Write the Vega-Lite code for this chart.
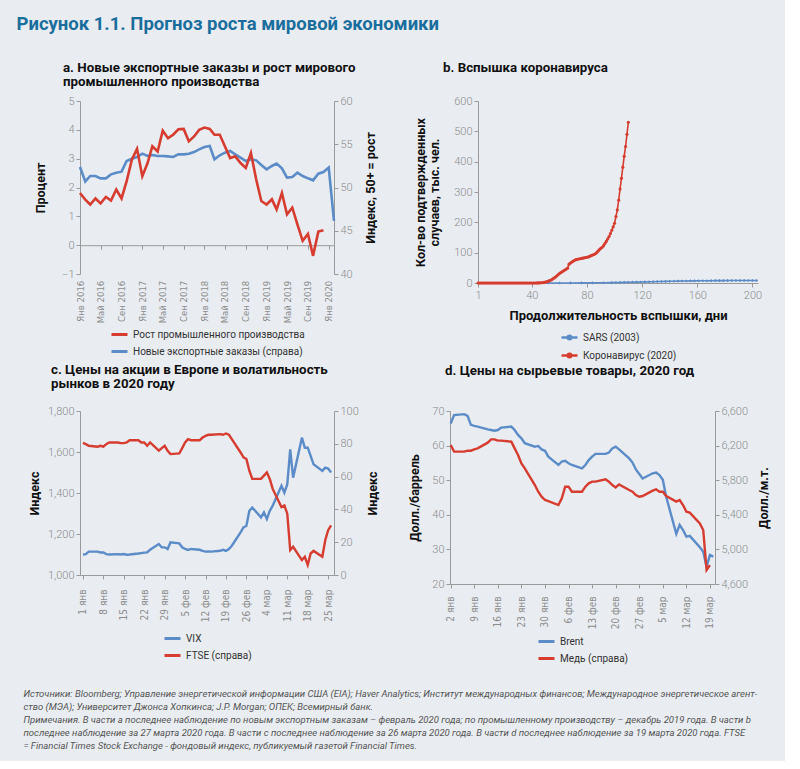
{
  "$schema": "https://vega.github.io/schema/vega-lite/v6.json",
  "background": "#e9ecf1",
  "padding": {"left": 16, "top": 15, "right": 14, "bottom": 10},
  "title": {
    "text": "Рисунок 1.1. Прогноз роста мировой экономики",
    "anchor": "start", "frame": "bounds", "dx": -7,
    "font": "Roboto", "fontSize": 18.5, "fontWeight": "bold", "color": "#1a6e9e", "offset": 27
  },
  "config": {
    "font": "Roboto",
    "view": {"stroke": null},
    "axis": {
      "grid": false, "domainColor": "#9a9a9a", "tickColor": "#9a9a9a", "tickSize": 4,
      "labelColor": "#8c8c8c", "labelFontSize": 11, "labelFont": "Roboto", "labelFontWeight": 300,
      "titleFont": "Roboto", "titleFontSize": 12.5, "titleFontWeight": "bold", "titleColor": "#111111"
    },
    "legend": {
      "orient": "bottom", "direction": "vertical", "labelFont": "Roboto", "labelFontSize": 10,
      "labelColor": "#333333", "labelLimit": 320, "symbolStrokeWidth": 3, "symbolSize": 256, "rowPadding": 1, "padding": 0,
      "layout": {"bottom": {"anchor": "middle"}}
    },
    "title": {"font": "Roboto", "fontSize": 13.3, "fontWeight": "bold", "color": "#111111", "anchor": "start", "lineHeight": 13.5}
  },
  "resolve": {"scale": {"color": "independent"}, "legend": {"color": "independent"}},
  "columns": 1,
  "spacing": 0,
  "datasets": {
    "a": [
      {"date": "2016-01-01", "ip": 1.81, "eo": 52.37},
      {"date": "2016-02-01", "ip": 1.58, "eo": 50.7},
      {"date": "2016-03-01", "ip": 1.41, "eo": 51.33},
      {"date": "2016-04-01", "ip": 1.62, "eo": 51.33},
      {"date": "2016-05-01", "ip": 1.45, "eo": 51.06},
      {"date": "2016-06-01", "ip": 1.67, "eo": 51.06},
      {"date": "2016-07-01", "ip": 1.55, "eo": 51.52},
      {"date": "2016-08-01", "ip": 1.93, "eo": 51.71},
      {"date": "2016-09-01", "ip": 1.62, "eo": 51.83},
      {"date": "2016-10-01", "ip": 2.22, "eo": 53.06},
      {"date": "2016-11-01", "ip": 2.97, "eo": 53.33},
      {"date": "2016-12-01", "ip": 3.34, "eo": 53.53},
      {"date": "2017-01-01", "ip": 2.39, "eo": 53.91},
      {"date": "2017-02-01", "ip": 2.85, "eo": 53.64},
      {"date": "2017-03-01", "ip": 3.43, "eo": 53.76},
      {"date": "2017-04-01", "ip": 3.25, "eo": 53.64},
      {"date": "2017-05-01", "ip": 3.97, "eo": 53.64},
      {"date": "2017-06-01", "ip": 3.71, "eo": 53.6},
      {"date": "2017-07-01", "ip": 3.83, "eo": 53.53},
      {"date": "2017-08-01", "ip": 4.02, "eo": 53.83},
      {"date": "2017-09-01", "ip": 4.03, "eo": 53.83},
      {"date": "2017-10-01", "ip": 3.6, "eo": 53.91},
      {"date": "2017-11-01", "ip": 3.77, "eo": 54.1},
      {"date": "2017-12-01", "ip": 4.0, "eo": 54.41},
      {"date": "2018-01-01", "ip": 4.08, "eo": 54.68},
      {"date": "2018-02-01", "ip": 4.03, "eo": 54.8},
      {"date": "2018-03-01", "ip": 3.83, "eo": 53.26},
      {"date": "2018-04-01", "ip": 3.83, "eo": 53.72},
      {"date": "2018-05-01", "ip": 3.43, "eo": 54.03},
      {"date": "2018-06-01", "ip": 3.02, "eo": 54.22},
      {"date": "2018-07-01", "ip": 3.08, "eo": 53.83},
      {"date": "2018-08-01", "ip": 2.85, "eo": 53.45},
      {"date": "2018-09-01", "ip": 2.68, "eo": 53.06},
      {"date": "2018-10-01", "ip": 3.2, "eo": 53.26},
      {"date": "2018-11-01", "ip": 2.28, "eo": 53.14},
      {"date": "2018-12-01", "ip": 1.53, "eo": 52.6},
      {"date": "2019-01-01", "ip": 1.41, "eo": 52.1},
      {"date": "2019-02-01", "ip": 1.59, "eo": 52.49},
      {"date": "2019-03-01", "ip": 1.24, "eo": 52.76},
      {"date": "2019-04-01", "ip": 1.81, "eo": 52.22},
      {"date": "2019-05-01", "ip": 1.07, "eo": 51.14},
      {"date": "2019-06-01", "ip": 1.3, "eo": 51.21},
      {"date": "2019-07-01", "ip": 0.72, "eo": 51.71},
      {"date": "2019-08-01", "ip": 0.15, "eo": 51.33},
      {"date": "2019-09-01", "ip": 0.39, "eo": 51.06},
      {"date": "2019-10-01", "ip": -0.37, "eo": 50.83},
      {"date": "2019-11-01", "ip": 0.47, "eo": 51.6},
      {"date": "2019-12-01", "ip": 0.52, "eo": 51.79},
      {"date": "2020-01-01", "ip": null, "eo": 52.3},
      {"date": "2020-02-01", "ip": null, "eo": 46.13}
    ],
    "b": [
      {"day": 52, "cases": 0, "series": "SARS (2003)"},
      {"day": 60, "cases": 0.1, "series": "SARS (2003)"},
      {"day": 68, "cases": 0.2, "series": "SARS (2003)"},
      {"day": 76, "cases": 0.3, "series": "SARS (2003)"},
      {"day": 84, "cases": 0.4, "series": "SARS (2003)"},
      {"day": 92, "cases": 0.8, "series": "SARS (2003)"},
      {"day": 98, "cases": 1.2, "series": "SARS (2003)"},
      {"day": 101, "cases": 1.5, "series": "SARS (2003)"},
      {"day": 104, "cases": 1.8, "series": "SARS (2003)"},
      {"day": 107, "cases": 2.1, "series": "SARS (2003)"},
      {"day": 110, "cases": 2.4, "series": "SARS (2003)"},
      {"day": 113, "cases": 2.7, "series": "SARS (2003)"},
      {"day": 116, "cases": 3.0, "series": "SARS (2003)"},
      {"day": 119, "cases": 3.3, "series": "SARS (2003)"},
      {"day": 122, "cases": 3.6, "series": "SARS (2003)"},
      {"day": 125, "cases": 4.0, "series": "SARS (2003)"},
      {"day": 128, "cases": 4.3, "series": "SARS (2003)"},
      {"day": 131, "cases": 4.7, "series": "SARS (2003)"},
      {"day": 134, "cases": 5.0, "series": "SARS (2003)"},
      {"day": 137, "cases": 5.3, "series": "SARS (2003)"},
      {"day": 140, "cases": 5.6, "series": "SARS (2003)"},
      {"day": 143, "cases": 5.9, "series": "SARS (2003)"},
      {"day": 146, "cases": 6.2, "series": "SARS (2003)"},
      {"day": 149, "cases": 6.5, "series": "SARS (2003)"},
      {"day": 152, "cases": 6.7, "series": "SARS (2003)"},
      {"day": 155, "cases": 6.9, "series": "SARS (2003)"},
      {"day": 158, "cases": 7.1, "series": "SARS (2003)"},
      {"day": 161, "cases": 7.3, "series": "SARS (2003)"},
      {"day": 164, "cases": 7.4, "series": "SARS (2003)"},
      {"day": 167, "cases": 7.5, "series": "SARS (2003)"},
      {"day": 170, "cases": 7.6, "series": "SARS (2003)"},
      {"day": 173, "cases": 7.7, "series": "SARS (2003)"},
      {"day": 176, "cases": 7.8, "series": "SARS (2003)"},
      {"day": 179, "cases": 7.9, "series": "SARS (2003)"},
      {"day": 182, "cases": 8.0, "series": "SARS (2003)"},
      {"day": 185, "cases": 8.0, "series": "SARS (2003)"},
      {"day": 188, "cases": 8.1, "series": "SARS (2003)"},
      {"day": 191, "cases": 8.1, "series": "SARS (2003)"},
      {"day": 194, "cases": 8.1, "series": "SARS (2003)"},
      {"day": 197, "cases": 8.1, "series": "SARS (2003)"},
      {"day": 200, "cases": 8.1, "series": "SARS (2003)"},
      {"day": 203, "cases": 8.1, "series": "SARS (2003)"},
      {"day": 1, "cases": 0, "series": "Коронавирус (2020)"},
      {"day": 2, "cases": 0, "series": "Коронавирус (2020)"},
      {"day": 3, "cases": 0, "series": "Коронавирус (2020)"},
      {"day": 4, "cases": 0, "series": "Коронавирус (2020)"},
      {"day": 5, "cases": 0, "series": "Коронавирус (2020)"},
      {"day": 6, "cases": 0, "series": "Коронавирус (2020)"},
      {"day": 7, "cases": 0, "series": "Коронавирус (2020)"},
      {"day": 8, "cases": 0, "series": "Коронавирус (2020)"},
      {"day": 9, "cases": 0, "series": "Коронавирус (2020)"},
      {"day": 10, "cases": 0, "series": "Коронавирус (2020)"},
      {"day": 11, "cases": 0, "series": "Коронавирус (2020)"},
      {"day": 12, "cases": 0, "series": "Коронавирус (2020)"},
      {"day": 13, "cases": 0, "series": "Коронавирус (2020)"},
      {"day": 14, "cases": 0, "series": "Коронавирус (2020)"},
      {"day": 15, "cases": 0, "series": "Коронавирус (2020)"},
      {"day": 16, "cases": 0, "series": "Коронавирус (2020)"},
      {"day": 17, "cases": 0, "series": "Коронавирус (2020)"},
      {"day": 18, "cases": 0, "series": "Коронавирус (2020)"},
      {"day": 19, "cases": 0, "series": "Коронавирус (2020)"},
      {"day": 20, "cases": 0, "series": "Коронавирус (2020)"},
      {"day": 21, "cases": 0, "series": "Коронавирус (2020)"},
      {"day": 22, "cases": 0, "series": "Коронавирус (2020)"},
      {"day": 23, "cases": 0, "series": "Коронавирус (2020)"},
      {"day": 24, "cases": 0, "series": "Коронавирус (2020)"},
      {"day": 25, "cases": 0, "series": "Коронавирус (2020)"},
      {"day": 26, "cases": 0, "series": "Коронавирус (2020)"},
      {"day": 27, "cases": 0, "series": "Коронавирус (2020)"},
      {"day": 28, "cases": 0, "series": "Коронавирус (2020)"},
      {"day": 29, "cases": 0, "series": "Коронавирус (2020)"},
      {"day": 30, "cases": 0, "series": "Коронавирус (2020)"},
      {"day": 31, "cases": 0, "series": "Коронавирус (2020)"},
      {"day": 32, "cases": 0, "series": "Коронавирус (2020)"},
      {"day": 33, "cases": 0, "series": "Коронавирус (2020)"},
      {"day": 34, "cases": 0, "series": "Коронавирус (2020)"},
      {"day": 35, "cases": 0, "series": "Коронавирус (2020)"},
      {"day": 36, "cases": 0, "series": "Коронавирус (2020)"},
      {"day": 37, "cases": 0, "series": "Коронавирус (2020)"},
      {"day": 38, "cases": 0, "series": "Коронавирус (2020)"},
      {"day": 39, "cases": 0, "series": "Коронавирус (2020)"},
      {"day": 40, "cases": 0, "series": "Коронавирус (2020)"},
      {"day": 41, "cases": 0, "series": "Коронавирус (2020)"},
      {"day": 42, "cases": 0, "series": "Коронавирус (2020)"},
      {"day": 43, "cases": 0.1, "series": "Коронавирус (2020)"},
      {"day": 44, "cases": 0.2, "series": "Коронавирус (2020)"},
      {"day": 45, "cases": 0.3, "series": "Коронавирус (2020)"},
      {"day": 46, "cases": 0.5, "series": "Коронавирус (2020)"},
      {"day": 47, "cases": 0.8, "series": "Коронавирус (2020)"},
      {"day": 48, "cases": 1.3, "series": "Коронавирус (2020)"},
      {"day": 49, "cases": 2, "series": "Коронавирус (2020)"},
      {"day": 50, "cases": 3, "series": "Коронавирус (2020)"},
      {"day": 51, "cases": 4.5, "series": "Коронавирус (2020)"},
      {"day": 52, "cases": 6, "series": "Коронавирус (2020)"},
      {"day": 53, "cases": 8, "series": "Коронавирус (2020)"},
      {"day": 54, "cases": 10, "series": "Коронавирус (2020)"},
      {"day": 55, "cases": 13, "series": "Коронавирус (2020)"},
      {"day": 56, "cases": 16, "series": "Коронавирус (2020)"},
      {"day": 57, "cases": 19, "series": "Коронавирус (2020)"},
      {"day": 58, "cases": 23, "series": "Коронавирус (2020)"},
      {"day": 59, "cases": 27, "series": "Коронавирус (2020)"},
      {"day": 60, "cases": 31, "series": "Коронавирус (2020)"},
      {"day": 61, "cases": 34, "series": "Коронавирус (2020)"},
      {"day": 62, "cases": 37, "series": "Коронавирус (2020)"},
      {"day": 63, "cases": 40, "series": "Коронавирус (2020)"},
      {"day": 64, "cases": 43, "series": "Коронавирус (2020)"},
      {"day": 65, "cases": 46, "series": "Коронавирус (2020)"},
      {"day": 66, "cases": 49, "series": "Коронавирус (2020)"},
      {"day": 67, "cases": 62, "series": "Коронавирус (2020)"},
      {"day": 68, "cases": 66, "series": "Коронавирус (2020)"},
      {"day": 69, "cases": 69, "series": "Коронавирус (2020)"},
      {"day": 70, "cases": 72, "series": "Коронавирус (2020)"},
      {"day": 71, "cases": 75, "series": "Коронавирус (2020)"},
      {"day": 72, "cases": 77, "series": "Коронавирус (2020)"},
      {"day": 73, "cases": 78, "series": "Коронавирус (2020)"},
      {"day": 74, "cases": 79, "series": "Коронавирус (2020)"},
      {"day": 75, "cases": 80, "series": "Коронавирус (2020)"},
      {"day": 76, "cases": 81, "series": "Коронавирус (2020)"},
      {"day": 77, "cases": 82, "series": "Коронавирус (2020)"},
      {"day": 78, "cases": 83, "series": "Коронавирус (2020)"},
      {"day": 79, "cases": 84, "series": "Коронавирус (2020)"},
      {"day": 80, "cases": 85, "series": "Коронавирус (2020)"},
      {"day": 81, "cases": 86, "series": "Коронавирус (2020)"},
      {"day": 82, "cases": 88, "series": "Коронавирус (2020)"},
      {"day": 83, "cases": 90, "series": "Коронавирус (2020)"},
      {"day": 84, "cases": 92, "series": "Коронавирус (2020)"},
      {"day": 85, "cases": 94, "series": "Коронавирус (2020)"},
      {"day": 86, "cases": 96, "series": "Коронавирус (2020)"},
      {"day": 87, "cases": 100, "series": "Коронавирус (2020)"},
      {"day": 88, "cases": 105, "series": "Коронавирус (2020)"},
      {"day": 89, "cases": 110, "series": "Коронавирус (2020)"},
      {"day": 90, "cases": 114, "series": "Коронавирус (2020)"},
      {"day": 91, "cases": 118, "series": "Коронавирус (2020)"},
      {"day": 92, "cases": 123, "series": "Коронавирус (2020)"},
      {"day": 93, "cases": 130, "series": "Коронавирус (2020)"},
      {"day": 94, "cases": 137, "series": "Коронавирус (2020)"},
      {"day": 95, "cases": 145, "series": "Коронавирус (2020)"},
      {"day": 96, "cases": 153, "series": "Коронавирус (2020)"},
      {"day": 97, "cases": 163, "series": "Коронавирус (2020)"},
      {"day": 98, "cases": 174, "series": "Коронавирус (2020)"},
      {"day": 99, "cases": 185, "series": "Коронавирус (2020)"},
      {"day": 100, "cases": 197, "series": "Коронавирус (2020)"},
      {"day": 101, "cases": 219, "series": "Коронавирус (2020)"},
      {"day": 102, "cases": 241, "series": "Коронавирус (2020)"},
      {"day": 103, "cases": 273, "series": "Коронавирус (2020)"},
      {"day": 104, "cases": 310, "series": "Коронавирус (2020)"},
      {"day": 105, "cases": 345, "series": "Коронавирус (2020)"},
      {"day": 106, "cases": 382, "series": "Коронавирус (2020)"},
      {"day": 107, "cases": 418, "series": "Коронавирус (2020)"},
      {"day": 108, "cases": 450, "series": "Коронавирус (2020)"},
      {"day": 109, "cases": 490, "series": "Коронавирус (2020)"},
      {"day": 110, "cases": 530, "series": "Коронавирус (2020)"}
    ],
    "c": [
      {"date": "2020-01-01", "vix": 1100, "ftse": 80.5},
      {"date": "2020-01-02", "vix": 1102, "ftse": 79.8},
      {"date": "2020-01-03", "vix": 1114, "ftse": 78.8},
      {"date": "2020-01-06", "vix": 1114, "ftse": 78.2},
      {"date": "2020-01-07", "vix": 1110, "ftse": 78.8},
      {"date": "2020-01-08", "vix": 1110, "ftse": 78.2},
      {"date": "2020-01-09", "vix": 1102, "ftse": 79.8},
      {"date": "2020-01-10", "vix": 1100, "ftse": 80.8},
      {"date": "2020-01-13", "vix": 1102, "ftse": 80.8},
      {"date": "2020-01-14", "vix": 1100, "ftse": 80.4},
      {"date": "2020-01-15", "vix": 1102, "ftse": 80.4},
      {"date": "2020-01-16", "vix": 1099, "ftse": 80.8},
      {"date": "2020-01-17", "vix": 1100, "ftse": 82.2},
      {"date": "2020-01-20", "vix": 1105, "ftse": 82.2},
      {"date": "2020-01-21", "vix": 1107, "ftse": 80.8},
      {"date": "2020-01-22", "vix": 1109, "ftse": 80.8},
      {"date": "2020-01-23", "vix": 1110, "ftse": 78.8},
      {"date": "2020-01-24", "vix": 1123, "ftse": 80.8},
      {"date": "2020-01-27", "vix": 1151, "ftse": 75.8},
      {"date": "2020-01-28", "vix": 1135, "ftse": 77.4},
      {"date": "2020-01-29", "vix": 1135, "ftse": 78.8},
      {"date": "2020-01-30", "vix": 1127, "ftse": 75.8},
      {"date": "2020-01-31", "vix": 1159, "ftse": 73.7},
      {"date": "2020-02-03", "vix": 1154, "ftse": 74.1},
      {"date": "2020-02-04", "vix": 1135, "ftse": 77.4},
      {"date": "2020-02-05", "vix": 1127, "ftse": 80.8},
      {"date": "2020-02-06", "vix": 1122, "ftse": 82.8},
      {"date": "2020-02-07", "vix": 1127, "ftse": 82.2},
      {"date": "2020-02-10", "vix": 1123, "ftse": 82.2},
      {"date": "2020-02-11", "vix": 1118, "ftse": 83.8},
      {"date": "2020-02-12", "vix": 1114, "ftse": 84.8},
      {"date": "2020-02-13", "vix": 1115, "ftse": 85.5},
      {"date": "2020-02-14", "vix": 1114, "ftse": 85.5},
      {"date": "2020-02-17", "vix": 1118, "ftse": 85.9},
      {"date": "2020-02-18", "vix": 1123, "ftse": 85.5},
      {"date": "2020-02-19", "vix": 1118, "ftse": 86.3},
      {"date": "2020-02-20", "vix": 1127, "ftse": 85.5},
      {"date": "2020-02-21", "vix": 1143, "ftse": 82.8},
      {"date": "2020-02-24", "vix": 1208, "ftse": 74.7},
      {"date": "2020-02-25", "vix": 1232, "ftse": 71.7},
      {"date": "2020-02-26", "vix": 1240, "ftse": 70.7},
      {"date": "2020-02-27", "vix": 1313, "ftse": 63.6},
      {"date": "2020-02-28", "vix": 1329, "ftse": 58.6},
      {"date": "2020-03-02", "vix": 1281, "ftse": 58.6},
      {"date": "2020-03-03", "vix": 1305, "ftse": 60.6},
      {"date": "2020-03-04", "vix": 1273, "ftse": 62.6},
      {"date": "2020-03-05", "vix": 1313, "ftse": 58.6},
      {"date": "2020-03-06", "vix": 1338, "ftse": 52.5},
      {"date": "2020-03-09", "vix": 1435, "ftse": 41.4},
      {"date": "2020-03-10", "vix": 1402, "ftse": 42.4},
      {"date": "2020-03-11", "vix": 1443, "ftse": 37.4},
      {"date": "2020-03-12", "vix": 1613, "ftse": 15.2},
      {"date": "2020-03-13", "vix": 1475, "ftse": 17.2},
      {"date": "2020-03-16", "vix": 1670, "ftse": 9.1},
      {"date": "2020-03-17", "vix": 1621, "ftse": 11.1},
      {"date": "2020-03-18", "vix": 1621, "ftse": 6.1},
      {"date": "2020-03-19", "vix": 1581, "ftse": 13.1},
      {"date": "2020-03-20", "vix": 1540, "ftse": 14.7},
      {"date": "2020-03-23", "vix": 1508, "ftse": 11.1},
      {"date": "2020-03-24", "vix": 1524, "ftse": 21.2},
      {"date": "2020-03-25", "vix": 1519, "ftse": 27.3},
      {"date": "2020-03-26", "vix": 1500, "ftse": 30.3}
    ],
    "d": [
      {"date": "2020-01-02", "brent": 66.4, "copper": 6207},
      {"date": "2020-01-03", "brent": 68.8, "copper": 6130},
      {"date": "2020-01-06", "brent": 69.1, "copper": 6130},
      {"date": "2020-01-07", "brent": 68.6, "copper": 6141},
      {"date": "2020-01-08", "brent": 66.0, "copper": 6141},
      {"date": "2020-01-09", "brent": 65.7, "copper": 6157},
      {"date": "2020-01-10", "brent": 65.5, "copper": 6168},
      {"date": "2020-01-13", "brent": 64.7, "copper": 6234},
      {"date": "2020-01-14", "brent": 64.5, "copper": 6272},
      {"date": "2020-01-15", "brent": 64.3, "copper": 6272},
      {"date": "2020-01-16", "brent": 64.5, "copper": 6257},
      {"date": "2020-01-17", "brent": 65.2, "copper": 6257},
      {"date": "2020-01-20", "brent": 65.5, "copper": 6245},
      {"date": "2020-01-21", "brent": 64.5, "copper": 6168},
      {"date": "2020-01-22", "brent": 63.1, "copper": 6091},
      {"date": "2020-01-23", "brent": 62.1, "copper": 5995},
      {"date": "2020-01-24", "brent": 60.7, "copper": 5937},
      {"date": "2020-01-27", "brent": 59.7, "copper": 5744},
      {"date": "2020-01-28", "brent": 59.9, "copper": 5667},
      {"date": "2020-01-29", "brent": 58.9, "copper": 5609},
      {"date": "2020-01-30", "brent": 58.5, "copper": 5571},
      {"date": "2020-01-31", "brent": 56.8, "copper": 5559},
      {"date": "2020-02-03", "brent": 54.4, "copper": 5513},
      {"date": "2020-02-04", "brent": 55.4, "copper": 5590},
      {"date": "2020-02-05", "brent": 55.6, "copper": 5725},
      {"date": "2020-02-06", "brent": 54.9, "copper": 5725},
      {"date": "2020-02-07", "brent": 54.4, "copper": 5667},
      {"date": "2020-02-10", "brent": 53.4, "copper": 5667},
      {"date": "2020-02-11", "brent": 54.4, "copper": 5725},
      {"date": "2020-02-12", "brent": 55.8, "copper": 5764},
      {"date": "2020-02-13", "brent": 56.8, "copper": 5783},
      {"date": "2020-02-14", "brent": 57.6, "copper": 5783},
      {"date": "2020-02-17", "brent": 57.6, "copper": 5810},
      {"date": "2020-02-18", "brent": 58.0, "copper": 5783},
      {"date": "2020-02-19", "brent": 59.2, "copper": 5744},
      {"date": "2020-02-20", "brent": 59.7, "copper": 5717},
      {"date": "2020-02-21", "brent": 58.9, "copper": 5752},
      {"date": "2020-02-24", "brent": 56.3, "copper": 5687},
      {"date": "2020-02-25", "brent": 55.1, "copper": 5667},
      {"date": "2020-02-26", "brent": 53.1, "copper": 5629},
      {"date": "2020-02-27", "brent": 51.8, "copper": 5609},
      {"date": "2020-02-28", "brent": 50.5, "copper": 5617},
      {"date": "2020-03-02", "brent": 52.0, "copper": 5679},
      {"date": "2020-03-03", "brent": 52.2, "copper": 5694},
      {"date": "2020-03-04", "brent": 51.5, "copper": 5667},
      {"date": "2020-03-05", "brent": 50.1, "copper": 5667},
      {"date": "2020-03-06", "brent": 45.2, "copper": 5617},
      {"date": "2020-03-09", "brent": 34.5, "copper": 5552},
      {"date": "2020-03-10", "brent": 37.1, "copper": 5571},
      {"date": "2020-03-11", "brent": 35.6, "copper": 5513},
      {"date": "2020-03-12", "brent": 33.7, "copper": 5436},
      {"date": "2020-03-13", "brent": 33.9, "copper": 5425},
      {"date": "2020-03-16", "brent": 30.6, "copper": 5301},
      {"date": "2020-03-17", "brent": 29.3, "copper": 5224},
      {"date": "2020-03-18", "brent": 25.0, "copper": 4762},
      {"date": "2020-03-19", "brent": 28.4, "copper": 4819},
      {"date": "2020-03-20", "brent": 27.9, "copper": null}
    ]
  },
  "concat": [
    {
      "hconcat": [
        {
          "width": 254, "height": 173,
          "title": {"text": ["a. Новые экспортные заказы и рост мирового", "    промышленного производства"], "frame": "group", "dx": -17, "offset": 7},
          "data": {"name": "a"},
          "encoding": {
            "x": {
              "field": "date", "type": "temporal",
              "scale": {"type": "utc", "domain": [{"year": 2016, "month": 1, "date": 1, "utc": true}, {"year": 2020, "month": 2, "date": 1, "utc": true}]},
              "axis": {
                "title": null,
                "values": [
                  {"year": 2016, "month": 1, "date": 1, "utc": true}, {"year": 2016, "month": 5, "date": 1, "utc": true}, {"year": 2016, "month": 9, "date": 1, "utc": true},
                  {"year": 2017, "month": 1, "date": 1, "utc": true}, {"year": 2017, "month": 5, "date": 1, "utc": true}, {"year": 2017, "month": 9, "date": 1, "utc": true},
                  {"year": 2018, "month": 1, "date": 1, "utc": true}, {"year": 2018, "month": 5, "date": 1, "utc": true}, {"year": 2018, "month": 9, "date": 1, "utc": true},
                  {"year": 2019, "month": 1, "date": 1, "utc": true}, {"year": 2019, "month": 5, "date": 1, "utc": true}, {"year": 2019, "month": 9, "date": 1, "utc": true},
                  {"year": 2020, "month": 1, "date": 1, "utc": true}
                ],
                "labelExpr": "['Янв','Фев','Мар','Апр','Май','Июн','Июл','Авг','Сен','Окт','Ноя','Дек'][utcmonth(datum.value)] + ' ' + utcyear(datum.value)",
                "labelAngle": -90, "labelAlign": "right", "labelBaseline": "middle",
                "offset": -28.8, "labelPadding": 31, "labelFlush": false, "labelOverlap": false,
                "labelFont": "Liberation Sans Narrow, DejaVu Sans Condensed, Roboto", "labelFontSize": 9.5, "labelFontWeight": "normal"
              }
            }
          },
          "layer": [
            {
              "mark": {"type": "line", "strokeWidth": 2.6},
              "encoding": {
                "y": {"field": "eo", "type": "quantitative", "scale": {"domain": [40, 60], "nice": false},
                  "axis": {"orient": "right", "values": [40, 45, 50, 55, 60], "title": "Индекс, 50+ = рост", "titleAngle": 270, "titleBaseline": "top", "titlePadding": 12}},
                "color": {"datum": "Новые экспортные заказы (справа)", "type": "nominal"}
              }
            },
            {
              "mark": {"type": "line", "strokeWidth": 2.6},
              "encoding": {
                "y": {"field": "ip", "type": "quantitative", "scale": {"domain": [-1, 5], "nice": false},
                  "axis": {"orient": "left", "values": [-1, 0, 1, 2, 3, 4, 5], "title": "Процент", "titlePadding": 14}},
                "color": {"datum": "Рост промышленного производства", "type": "nominal",
                  "scale": {"domain": ["Рост промышленного производства", "Новые экспортные заказы (справа)"], "range": ["#d63c2f", "#5b8cc8"]},
                  "legend": {"title": null, "offset": 2}}
              }
            }
          ],
          "resolve": {"scale": {"y": "independent"}}
        },
        {
          "width": 280, "height": 182,
          "title": {"text": "b. Вспышка коронавируса", "frame": "group", "dx": -35, "offset": 21},
          "data": {"name": "b"},
          "encoding": {
            "x": {"field": "day", "type": "quantitative", "scale": {"domain": [1, 204], "nice": false},
              "axis": {"values": [1, 40, 80, 120, 160, 200], "title": "Продолжительность вспышки, дни", "titleFontSize": 13, "titlePadding": 9, "labelFlush": false}},
            "y": {"field": "cases", "type": "quantitative", "scale": {"domain": [0, 600], "nice": false},
              "axis": {"values": [0, 100, 200, 300, 400, 500, 600], "title": ["Кол-во подтвержденных", "случаев, тыс. чел."], "titlePadding": 12, "titleLineHeight": 14}},
            "color": {"field": "series", "type": "nominal",
              "scale": {"domain": ["SARS (2003)", "Коронавирус (2020)"], "range": ["#5b8cc8", "#d63c2f"]},
              "legend": {"title": null, "offset": 6, "symbolType": "M-1,0L1,0M-0.22,0A0.22,0.22,0,1,1,0.22,0A0.22,0.22,0,1,1,-0.22,0", "symbolSize": 256, "symbolStrokeWidth": 2.5}}
          },
          "layer": [
            {"mark": {"type": "line", "strokeWidth": 1.6}, "encoding": {}},
            {"mark": {"type": "point", "filled": true, "size": 10, "opacity": 1},
              "encoding": {"shape": {"field": "series", "type": "nominal", "scale": {"domain": ["SARS (2003)", "Коронавирус (2020)"], "range": ["diamond", "circle"]}, "legend": null}}}
          ]
        }
      ],
      "spacing": 37,
      "resolve": {"scale": {"color": "independent"}, "legend": {"color": "independent"}}
    },
    {
      "hconcat": [
        {
          "width": 254, "height": 164,
          "title": {"text": ["c. Цены на акции в Европе и волатильность", "    рынков в 2020 году"], "frame": "group", "dx": -29, "offset": 15},
          "data": {"name": "c"},
          "encoding": {
            "x": {
              "field": "date", "type": "temporal",
              "scale": {"type": "utc", "domain": [{"year": 2019, "month": 12, "date": 31, "utc": true}, {"year": 2020, "month": 3, "date": 27, "utc": true}]},
              "axis": {
                "title": null,
                "values": [
                  {"year": 2020, "month": 1, "date": 1, "utc": true}, {"year": 2020, "month": 1, "date": 8, "utc": true}, {"year": 2020, "month": 1, "date": 15, "utc": true},
                  {"year": 2020, "month": 1, "date": 22, "utc": true}, {"year": 2020, "month": 1, "date": 29, "utc": true}, {"year": 2020, "month": 2, "date": 5, "utc": true},
                  {"year": 2020, "month": 2, "date": 12, "utc": true}, {"year": 2020, "month": 2, "date": 19, "utc": true}, {"year": 2020, "month": 2, "date": 26, "utc": true},
                  {"year": 2020, "month": 3, "date": 4, "utc": true}, {"year": 2020, "month": 3, "date": 11, "utc": true}, {"year": 2020, "month": 3, "date": 18, "utc": true},
                  {"year": 2020, "month": 3, "date": 25, "utc": true}
                ],
                "labelExpr": "utcdate(datum.value) + ' ' + ['янв','фев','мар','апр'][utcmonth(datum.value)]",
                "labelAngle": -90, "labelAlign": "right", "labelBaseline": "middle", "labelPadding": 10,
                "labelFlush": false, "labelOverlap": false,
                "labelFont": "Liberation Sans Narrow, DejaVu Sans Condensed, Roboto", "labelFontSize": 10, "labelFontWeight": "normal"
              }
            }
          },
          "layer": [
            {
              "mark": {"type": "line", "strokeWidth": 2.4},
              "encoding": {
                "y": {"field": "vix", "type": "quantitative", "scale": {"domain": [1000, 1800], "nice": false},
                  "axis": {"orient": "left", "values": [1000, 1200, 1400, 1600, 1800], "format": ",.0f", "title": "Индекс", "titlePadding": 6}},
                "color": {"datum": "VIX", "type": "nominal",
                  "scale": {"domain": ["VIX", "FTSE (справа)"], "range": ["#5b8cc8", "#d63c2f"]},
                  "legend": {"title": null, "offset": 7}}
              }
            },
            {
              "mark": {"type": "line", "strokeWidth": 2.4},
              "encoding": {
                "y": {"field": "ftse", "type": "quantitative", "scale": {"domain": [0, 100], "nice": false},
                  "axis": {"orient": "right", "values": [0, 20, 40, 60, 80, 100], "title": "Индекс", "titleAngle": 270, "titleBaseline": "top", "titlePadding": 8}},
                "color": {"datum": "FTSE (справа)", "type": "nominal"}
              }
            }
          ],
          "resolve": {"scale": {"y": "independent"}}
        },
        {
          "width": 265, "height": 173,
          "title": {"text": "d. Цены на сырьевые товары, 2020 год", "frame": "group", "dx": -5, "offset": 28},
          "data": {"name": "d"},
          "encoding": {
            "x": {
              "field": "date", "type": "temporal",
              "scale": {"type": "utc", "domain": [{"year": 2020, "month": 1, "date": 1, "hours": 19, "utc": true}, {"year": 2020, "month": 3, "date": 20, "hours": 12, "utc": true}]},
              "axis": {
                "title": null,
                "values": [
                  {"year": 2020, "month": 1, "date": 2, "utc": true}, {"year": 2020, "month": 1, "date": 9, "utc": true}, {"year": 2020, "month": 1, "date": 16, "utc": true},
                  {"year": 2020, "month": 1, "date": 23, "utc": true}, {"year": 2020, "month": 1, "date": 30, "utc": true}, {"year": 2020, "month": 2, "date": 6, "utc": true},
                  {"year": 2020, "month": 2, "date": 13, "utc": true}, {"year": 2020, "month": 2, "date": 20, "utc": true}, {"year": 2020, "month": 2, "date": 27, "utc": true},
                  {"year": 2020, "month": 3, "date": 5, "utc": true}, {"year": 2020, "month": 3, "date": 12, "utc": true}, {"year": 2020, "month": 3, "date": 19, "utc": true}
                ],
                "labelExpr": "utcdate(datum.value) + ' ' + ['янв','фев','мар','апр'][utcmonth(datum.value)]",
                "labelAngle": -90, "labelAlign": "right", "labelBaseline": "middle", "labelPadding": 8,
                "labelFlush": false, "labelOverlap": false,
                "labelFont": "Liberation Sans Narrow, DejaVu Sans Condensed, Roboto", "labelFontSize": 10, "labelFontWeight": "normal"
              }
            }
          },
          "layer": [
            {
              "mark": {"type": "line", "strokeWidth": 2.4},
              "encoding": {
                "y": {"field": "brent", "type": "quantitative", "scale": {"domain": [20, 70], "nice": false},
                  "axis": {"orient": "left", "values": [20, 30, 40, 50, 60, 70], "title": "Долл./баррель", "titlePadding": 10}},
                "color": {"datum": "Brent", "type": "nominal",
                  "scale": {"domain": ["Brent", "Медь (справа)"], "range": ["#5b8cc8", "#d63c2f"]},
                  "legend": {"title": null, "offset": 3}}
              }
            },
            {
              "mark": {"type": "line", "strokeWidth": 2.4},
              "encoding": {
                "y": {"field": "copper", "type": "quantitative", "scale": {"domain": [4600, 6600], "nice": false},
                  "axis": {"orient": "right", "values": [4600, 5000, 5400, 5800, 6200, 6600], "format": ",.0f", "title": "Долл./м.т.", "titleAngle": 270, "titleBaseline": "top", "titlePadding": 10}},
                "color": {"datum": "Медь (справа)", "type": "nominal"}
              }
            }
          ],
          "resolve": {"scale": {"y": "independent"}}
        }
      ],
      "spacing": 29,
      "resolve": {"scale": {"color": "independent"}, "legend": {"color": "independent"}},
      "title": {
        "text": [
          "Источники: Bloomberg; Управление энергетической информации США (EIA); Haver Analytics; Институт международных финансов; Международное энергетическое агент-",
          "ство (МЭА); Университет Джонса Хопкинса; J.P. Morgan; ОПЕК; Всемирный банк.",
          "Примечания. В части a последнее наблюдение по новым экспортным заказам – февраль 2020 года; по промышленному производству – декабрь 2019 года. В части b",
          "последнее наблюдение за 27 марта 2020 года. В части c последнее наблюдение за 26 марта 2020 года. В части d последнее наблюдение за 19 марта 2020 года. FTSE",
          "= Financial Times Stock Exchange - фондовый индекс, публикуемый газетой Financial Times."
        ],
        "orient": "bottom", "anchor": "start", "frame": "bounds", "dx": -5,
        "font": "Roboto", "fontSize": 9.5, "fontStyle": "italic", "fontWeight": "normal", "color": "#555555",
        "lineHeight": 13, "offset": 24
      }
    }
  ]
}
